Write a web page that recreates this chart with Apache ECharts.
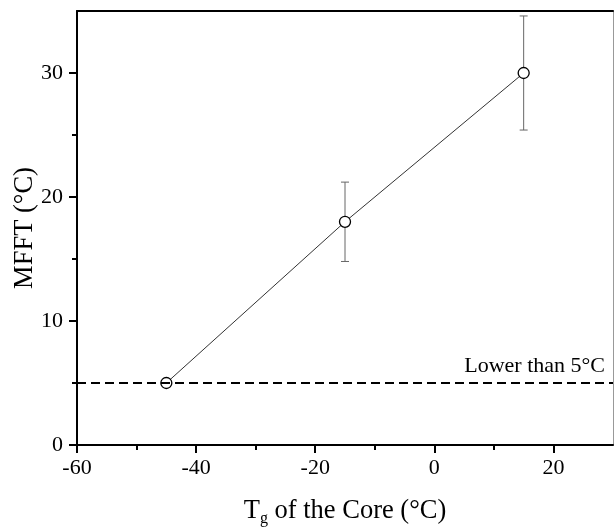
<!DOCTYPE html>
<html>
<head>
<meta charset="utf-8">
<script src="https://cdn.jsdelivr.net/npm/echarts@6/dist/echarts.min.js"></script>
<style>
html, body { margin: 0; padding: 0; background: #fff; }
#main { width: 614px; height: 529px; }
</style>
</head>
<body>
<div id="main"></div>
<script>
// data
var coreTg = [-45, -15, 15];
var mfft = [5, 18, 30];
var mfftErr = [0, 3.2, 4.6];
var lowerLimit = 5;
var xMajor = [-60, -40, -20, 0, 20];
var xMinor = [-50, -30, -10, 10];
var yMajor = [0, 10, 20, 30];
var yMinor = [5, 15, 25];

var FONT = 'Liberation Serif';

var points = [];
var errData = [];
for (var i = 0; i < coreTg.length; i++) {
	points.push([coreTg[i], mfft[i]]);
	if (mfftErr[i] > 0) {
		errData.push([coreTg[i], mfft[i] - mfftErr[i], mfft[i] + mfftErr[i]]);
	}
}

function renderErr(params, api) {
	var lo = api.coord([api.value(0), api.value(1)]);
	var hi = api.coord([api.value(0), api.value(2)]);
	var w = 4;
	var st = { stroke: '#666', lineWidth: 1 };
	return {
		type: 'group',
		children: [
			{ type: 'line', shape: { x1: lo[0], y1: lo[1], x2: hi[0], y2: hi[1] }, style: st },
			{ type: 'line', shape: { x1: lo[0] - w, y1: lo[1], x2: lo[0] + w, y2: lo[1] }, style: st },
			{ type: 'line', shape: { x1: hi[0] - w, y1: hi[1], x2: hi[0] + w, y2: hi[1] }, style: st }
		]
	};
}

var myChart = echarts.init(document.getElementById('main'));

var option = {
	backgroundColor: '#fff',
	animation: false,
	grid: {
		left: 77,
		right: 1,
		top: 11,
		bottom: 84,
		containLabel: false,
		outerBoundsMode: 'none'
	},
	xAxis: [
		{
			type: 'value',
			min: -60,
			max: 30,
			interval: 20,
			name: 'T{sub|g} of the Core (°C)',
			nameLocation: 'middle',
			nameGap: 50,
			nameMoveOverlap: false,
			nameTextStyle: {
				fontFamily: FONT,
				fontSize: 26.5,
				color: '#000',
				rich: {
					sub: { fontFamily: FONT, fontSize: 16, verticalAlign: 'bottom', padding: [16, 0, 0, 0] }
				}
			},
			splitLine: { show: false },
			axisLine: { show: true, onZero: false, lineStyle: { color: '#000', width: 2 } },
			axisTick: { show: true, length: 8, customValues: xMajor, lineStyle: { color: '#000', width: 2 } },
			axisLabel: { customValues: xMajor, fontFamily: FONT, fontSize: 22, color: '#000', margin: 12 }
		},
		{
			type: 'value',
			min: -60,
			max: 30,
			position: 'bottom',
			splitLine: { show: false },
			axisLine: { show: false, onZero: false },
			axisTick: { show: true, length: 5, customValues: xMinor, lineStyle: { color: '#000', width: 2 } },
			axisLabel: { show: false }
		},
		{
			type: 'value',
			min: -60,
			max: 30,
			position: 'top',
			splitLine: { show: false },
			axisLine: { show: true, onZero: false, lineStyle: { color: '#000', width: 2 } },
			axisTick: { show: false },
			axisLabel: { show: false }
		}
	],
	yAxis: [
		{
			type: 'value',
			min: 0,
			max: 35,
			interval: 10,
			name: 'MFFT (°C)',
			nameLocation: 'middle',
			nameGap: 38,
			nameMoveOverlap: false,
			nameTextStyle: { fontFamily: FONT, fontSize: 26.5, color: '#000' },
			splitLine: { show: false },
			axisLine: { show: true, onZero: false, lineStyle: { color: '#000', width: 2 } },
			axisTick: { show: true, length: 8, customValues: yMajor, lineStyle: { color: '#000', width: 2 } },
			axisLabel: { customValues: yMajor, fontFamily: FONT, fontSize: 22, color: '#000', margin: 14 }
		},
		{
			type: 'value',
			min: 0,
			max: 35,
			position: 'left',
			splitLine: { show: false },
			axisLine: { show: false, onZero: false },
			axisTick: { show: true, length: 5, customValues: yMinor, lineStyle: { color: '#000', width: 2 } },
			axisLabel: { show: false }
		},
		{
			type: 'value',
			min: 0,
			max: 35,
			position: 'right',
			splitLine: { show: false },
			axisLine: { show: true, onZero: false, lineStyle: { color: '#999', width: 1 } },
			axisTick: { show: false },
			axisLabel: { show: false }
		}
	],
	series: [
		{
			type: 'custom',
			name: 'err',
			renderItem: renderErr,
			data: errData,
			z: 1
		},
		{
			type: 'line',
			name: 'MFFT',
			data: points,
			symbol: 'circle',
			symbolSize: 11,
			lineStyle: { color: '#333', width: 1 },
			itemStyle: { color: '#fff', borderColor: '#000', borderWidth: 1.3 },
			z: 3,
			markLine: {
				silent: true,
				symbol: 'none',
				lineStyle: { color: '#000', type: [9, 5], width: 1.8 },
				label: {
					position: 'insideEndTop',
					formatter: 'Lower than 5°C',
					fontFamily: FONT,
					fontSize: 22,
					color: '#000',
					distance: [8, 6]
				},
				data: [{ yAxis: lowerLimit }]
			}
		}
	]
};
myChart.setOption(option);
</script>
</body>
</html>
